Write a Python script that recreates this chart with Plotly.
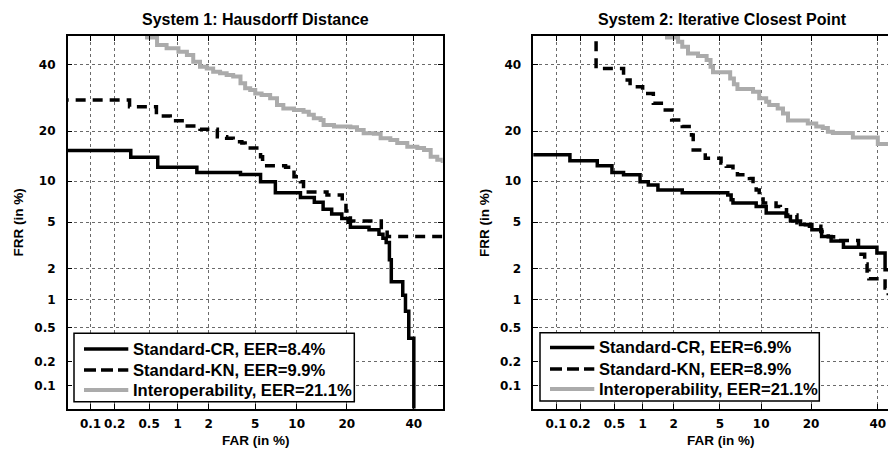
import plotly.graph_objects as go
from statistics import NormalDist

# ---------------- data (percent values) ----------------
tick_vals = [0.1, 0.2, 0.5, 1, 2, 5, 10, 20, 40]
tick_text = ["0.1", "0.2", "0.5", "1", "2", "5", "10", "20", "40"]

titles = ["System 1: Hausdorff Distance", "System 2: Iterative Closest Point"]
names1 = ["Standard-CR, EER=8.4%", "Standard-KN, EER=9.9%", "Interoperability, EER=21.1%"]
names2 = ["Standard-CR, EER=6.9%", "Standard-KN, EER=8.9%", "Interoperability, EER=21.1%"]

# System 1
cr1_far = [0.001, 0.31, 0.62, 1.55, 3.8, 5.5, 7.1, 10.6, 13.0, 14.7, 16.5, 18.8, 20.3, 20.9,
           25.9, 28.8, 30.0, 31.0, 32.0, 32.6, 36.3, 37.2, 38.3, 40.0]
cr1_frr = [15.6, 14.2, 12.3, 11.4, 11.05, 9.9, 8.3, 7.7, 7.1, 6.3, 5.8, 5.35, 5.0, 4.55,
           4.35, 4.0, 3.7, 3.4, 2.4, 1.5, 1.1, 0.75, 0.38, 0.001]

kn1_far = [0.001, 0.3, 0.6, 0.84, 1.19, 1.66, 2.4, 2.9, 3.3, 3.9, 4.15, 5.5, 5.7, 8.4, 9.1,
           9.6, 10.6, 11.1, 11.4, 15.5, 18.9, 19.8, 20.9, 29.5, 31.3, 60]
kn1_frr = [28.6, 26.6, 24.0, 22.7, 21.3, 20.5, 18.7, 18.3, 17.5, 17.2, 16.1, 14.3, 12.6, 12.3, 11.8,
           10.7, 9.9, 9.2, 8.4, 8.0, 7.0, 6.1, 5.1, 4.35, 3.83, 3.83]

io1_far = [0.45, 0.61, 0.77, 1.02, 1.24, 1.43, 1.66, 1.92, 2.2, 2.54, 2.9, 3.3, 3.8, 4.15, 4.56,
           5.0, 5.6, 6.5, 7.3, 8.1, 9.6, 11.1, 12.0, 12.9, 14.2, 14.8, 17.0, 20.9, 22.6, 24.4,
           27.3, 29.3, 32.3, 34.5, 37.8, 41.2, 43.5, 45.8, 48.1, 50]
io1_frr = [49.5, 46.8, 45.7, 44.5, 43.3, 41.0, 39.3, 38.7, 37.6, 37.1, 36.5, 36.0, 33.8, 32.2, 31.7,
           30.6, 30.1, 29.1, 27.1, 26.1, 25.7, 25.2, 24.3, 23.4, 22.9, 21.6, 21.2, 21.0, 20.3, 19.5,
           19.4, 18.3, 17.9, 17.2, 16.4, 16.1, 15.7, 14.3, 13.7, 13.1]

# System 2
cr2_far = [0.001, 0.15, 0.32, 0.47, 0.63, 0.94, 1.14, 1.42, 2.4, 5.75, 6.1, 6.3, 9.25, 10.8,
           14.4, 15.3, 17.5, 20.2, 22.7, 25.3, 28.9, 39.7, 42.5, 60]
cr2_frr = [14.7, 13.5, 12.6, 11.4, 11.0, 9.9, 9.4, 8.7, 8.3, 8.0, 7.4, 7.0, 6.6, 5.9,
           5.55, 5.1, 4.8, 4.35, 3.83, 3.5, 3.1, 2.76, 1.95, 1.95]

kn2_far = [0.31, 0.31, 0.63, 0.74, 1.0, 1.28, 1.6, 1.92, 2.4, 2.9, 3.0, 3.8, 5.1, 5.6, 6.3,
           6.8, 8.3, 8.8, 9.25, 9.7, 10.3, 12.5, 13.3, 14.5, 16.7, 19.6, 22.5, 24.5, 26.0,
           33.6, 35.6, 36.4, 37.0, 42.5, 43.6]
kn2_frr = [60, 38.7, 34.9, 32.7, 30.6, 27.6, 25.7, 22.9, 21.2, 19.1, 15.7, 14.0, 13.1, 12.5, 11.6,
           11.0, 10.4, 9.6, 8.7, 7.8, 7.0, 6.6, 6.25, 5.7, 4.77, 4.65, 4.2, 3.8, 3.55,
           2.7, 2.2, 1.9, 1.6, 1.3, 1.1]

io2_far = [1.66, 2.2, 2.4, 2.7, 3.3, 3.9, 4.2, 4.4, 6.0, 6.4, 6.8, 8.8, 9.7, 10.8, 11.3, 12.8,
           13.8, 14.8, 19.2, 21.3, 23.0, 24.4, 25.8, 31.8, 40.0, 60]
io2_frr = [49.5, 48.0, 46.2, 43.9, 43.0, 41.6, 39.3, 37.4, 35.4, 33.5, 32.0, 31.1, 29.1, 28.1, 27.1, 26.1,
           24.7, 22.8, 22.0, 21.2, 20.8, 19.9, 19.6, 18.5, 17.0, 17.0]

AXIS_MIN_PCT = 0.05
AXIS_MAX_PCT = 50
RIGHT_VISIBLE_MAX_PCT = 46.3

# ---------------- helpers ----------------
_nd = NormalDist()


def probit(values):
    return [_nd.inv_cdf(v / 100.0) for v in values]


# The page body has an 8px margin, so the figure is 8px smaller and
# window-pixel positions are shifted by 8px.
OFF = 8
W, H = 896 - OFF, 450 - OFF


def px(x):
    return (x - OFF) / W


def py(y):
    return 1 - (y - OFF) / H


FONT = "Liberation Sans, Arial, sans-serif"
TICKFONT = dict(family="DejaVu Sans", size=12, color="black", weight="bold")
GRAY = "#ababab"

fig = go.Figure()

styles = [dict(color="black", width=3.5),
          dict(color="black", width=3.5, dash="10px,7px"),
          dict(color=GRAY, width=4)]
legend_styles = [dict(color="black", width=3.5),
                 dict(color="black", width=3.5, dash="12px,5px"),
                 dict(color=GRAY, width=4)]

panels = [
    ("x", "y", names1, [(cr1_far, cr1_frr), (kn1_far, kn1_frr), (io1_far, io1_frr)]),
    ("x2", "y2", names2, [(cr2_far, cr2_frr), (kn2_far, kn2_frr), (io2_far, io2_frr)]),
]
for xa, ya, names, series in panels:
    for (far, frr), name, st in zip(series, names, styles):
        fig.add_trace(go.Scatter(x=probit(far), y=probit(frr), mode="lines", name=name,
                                 line=dict(shape="hv", **st), xaxis=xa, yaxis=ya,
                                 showlegend=False, hoverinfo="skip"))

tv = probit(tick_vals)
common_axis = dict(tickmode="array", tickvals=tv, ticktext=tick_text, tickfont=TICKFONT,
                   ticks="inside", ticklen=5, tickwidth=1, tickcolor="black",
                   showline=True, linecolor="black", linewidth=1.5,
                   showgrid=True, gridcolor="#6a6a6a", gridwidth=1, griddash="dot",
                   zeroline=False, automargin=False)

ymin, ymax = probit([AXIS_MIN_PCT, AXIS_MAX_PCT])
y_dom = [py(408.5), py(36)]
fig.update_layout(
    xaxis=dict(domain=[px(67.7), px(442.7)], range=[ymin, ymax], anchor="y",
               mirror="ticks", ticklabelstandoff=3, **common_axis),
    yaxis=dict(domain=y_dom, range=[ymin, ymax], anchor="x",
               mirror="ticks", ticklabelstandoff=8, **common_axis),
    xaxis2=dict(domain=[px(533.3), 1.0], range=[ymin, probit([RIGHT_VISIBLE_MAX_PCT])[0]],
                anchor="y2", mirror="ticks", ticklabelstandoff=3, **common_axis),
    yaxis2=dict(domain=y_dom, range=[ymin, ymax], anchor="x2",
                mirror=False, ticklabelstandoff=8, **common_axis),
)

annots = []
shapes = []
for title, cx in zip(titles, [255.5, 722]):
    annots.append(dict(text=title, x=px(cx), y=py(19), xref="paper", yref="paper",
                       showarrow=False, xanchor="center", yanchor="middle",
                       font=dict(family=FONT, size=16, color="black", weight="bold")))
for cx in [255.8, 721]:
    annots.append(dict(text="FAR (in %)", x=px(cx), y=py(440), xref="paper", yref="paper",
                       showarrow=False, xanchor="center", yanchor="middle",
                       font=dict(family=FONT, size=13.5, color="black", weight="bold")))
for cx in [17.5, 484]:
    annots.append(dict(text="FRR (in %)", x=px(cx), y=py(223), xref="paper", yref="paper",
                       showarrow=False, xanchor="center", yanchor="middle", textangle=-90,
                       font=dict(family=FONT, size=13.5, color="black", weight="bold")))

# legends (box, line samples, labels)
legend_boxes = [(74, 354.3, 333.3, 401.7, [349, 370, 390], names1),
                (540, 819.3, 332.7, 401.0, [347.5, 369, 389], names2)]
for x0, x1, y0, y1, rows, names in legend_boxes:
    shapes.append(dict(type="rect", xref="paper", yref="paper",
                       x0=px(x0), x1=px(x1), y0=py(y0), y1=py(y1),
                       line=dict(color="black", width=1.5), fillcolor="white", layer="above"))
    for ry, name, st in zip(rows, names, legend_styles):
        shapes.append(dict(type="line", xref="paper", yref="paper",
                           x0=px(x0 + 10), x1=px(x0 + 54.3), y0=py(ry), y1=py(ry),
                           line=st, layer="above"))
        annots.append(dict(text=name, x=px(x0 + 56.5), y=py(ry), xref="paper", yref="paper",
                           showarrow=False, xanchor="left", yanchor="middle",
                           font=dict(family=FONT, size=16.6, color="black", weight="bold")))

fig.update_layout(width=W, height=H, margin=dict(l=0, r=0, t=0, b=0),
                  paper_bgcolor="white", plot_bgcolor="white", showlegend=False,
                  annotations=annots, shapes=shapes)

fig.write_html("out.html")
